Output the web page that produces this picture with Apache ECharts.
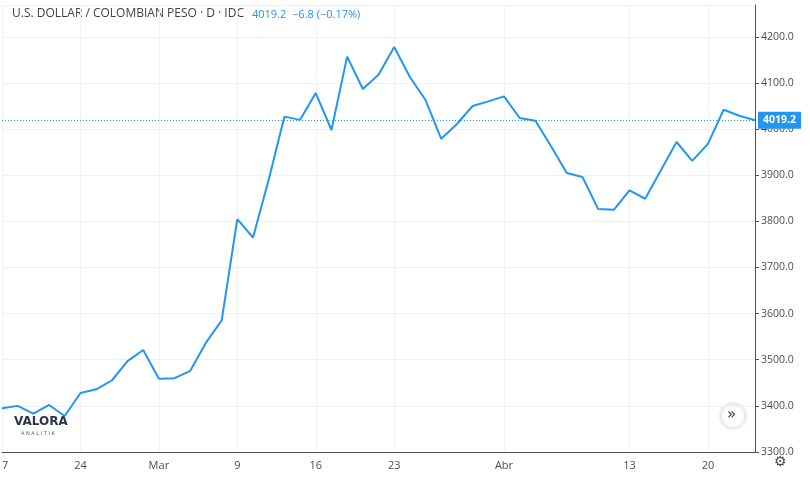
<!DOCTYPE html>
<html>
<head>
<meta charset="utf-8">
<script src="https://cdn.jsdelivr.net/npm/echarts@6/dist/echarts.min.js"></script>
<style>html,body{margin:0;padding:0;background:#fff}#chart{width:810px;height:479px}</style>
</head>
<body>
<div id="chart"></div>
<script>
// fechas de negociación (feb-abr 2020)
const dates = [
  '02-17','02-18','02-19','02-20','02-21',
  '02-24','02-25','02-26','02-27','02-28',
  '03-02','03-03','03-04','03-05','03-06',
  '03-09','03-10','03-11','03-12','03-13',
  '03-16','03-17','03-18','03-19','03-20',
  '03-23','03-24','03-25','03-26','03-27',
  '03-30','03-31','04-01','04-02','04-03',
  '04-06','04-07','04-08','04-09','04-10',
  '04-13','04-14','04-15','04-16','04-17',
  '04-20','04-21','04-22','04-23'
];
const closes = [
  3395, 3400, 3383, 3402, 3378,
  3428, 3436, 3455, 3497, 3521,
  3459, 3460, 3476, 3537, 3585,
  3805, 3765, 3890, 4027, 4020,
  4078, 3998, 4157, 4087, 4118,
  4178, 4113, 4063, 3979, 4011,
  4050, 4060, 4071, 4024, 4018,
  3963, 3905, 3896, 3827, 3825,
  3867, 3849, 3911, 3972, 3931,
  3968, 4042, 4029, 4019.2
];
const tickDates = ['02-17','02-24','03-02','03-09','03-16','03-23','04-01','04-13','04-20'];
const lastPrice = 4019.2;

const blue = '#2196f3';
const gridColor = '#eef1f6';
const showTick = (i) => tickDates.indexOf(dates[i]) >= 0;

const chart = echarts.init(document.getElementById('chart'));
chart.setOption({
  animation: false,
  grid: {left: 2, right: 55, top: 5, bottom: 27, containLabel: false, outerBoundsMode: 'none'},
  xAxis: {
    type: 'category',
    data: dates,
    boundaryGap: false,
    axisLine: {lineStyle: {color: '#50535e', width: 1}},
    axisTick: {show: false},
    axisLabel: {
      interval: showTick,
      color: '#4a4d57', fontFamily: 'Open Sans', fontSize: 11, margin: 8,
      formatter: v => v === '03-02' ? 'Mar' : v === '04-01' ? 'Abr' : String(parseInt(v.slice(3), 10))
    },
    splitLine: {show: true, interval: showTick, lineStyle: {color: gridColor}}
  },
  yAxis: {
    type: 'value',
    position: 'right',
    min: 3300, max: 4269, interval: 100,
    axisLine: {show: true, lineStyle: {color: '#50535e'}},
    axisTick: {show: true, length: 4, lineStyle: {color: '#50535e'}},
    axisLabel: {color: '#4a4d57', fontFamily: 'Open Sans', fontSize: 10.5, margin: 6,
      formatter: v => v.toFixed(1), showMaxLabel: false},
    splitLine: {lineStyle: {color: gridColor}}
  },
  series: [{
    type: 'line',
    data: closes,
    symbol: 'none',
    lineStyle: {color: blue, width: 2},
    markLine: {
      silent: true,
      symbol: ['none', 'none'],
      lineStyle: {color: blue, type: [1, 2], width: 1},
      label: {
        position: 'end', formatter: lastPrice.toFixed(1),
        backgroundColor: blue, color: '#fff', fontFamily: 'Open Sans', fontSize: 10.5,
        fontWeight: 'bold', padding: [3, 5], distance: 3
      },
      data: [{yAxis: lastPrice}]
    }
  }],
  graphic: [
    {type: 'text', left: 12, top: 8, style: {text: 'U.S. DOLLAR / COLOMBIAN PESO · D · IDC',
      fill: '#3c3f48', font: '12px "Open Sans"'}},
    {type: 'text', left: 252, top: 9, style: {text: '4019.2  −6.8 (−0.17%)',
      fill: blue, font: '11px "Open Sans"'}},
    {type: 'text', left: 14, top: 416, style: {text: 'VALORA', fill: '#2f3545',
      font: 'bold 12px "DejaVu Sans"'}},
    {type: 'text', left: 21, top: 431, style: {text: 'A N A L I T I K', fill: '#555',
      font: '5px "DejaVu Sans"'}},
    {type: 'circle', shape: {cx: 733, cy: 416, r: 12}, style: {fill: '#fff', stroke: '#e0e3eb', shadowBlur: 4, shadowColor: 'rgba(0,0,0,0.15)'}},
    {type: 'text', left: 727, top: 408, style: {text: '»', fill: '#333', font: '15px "DejaVu Sans"'}},
    {type: 'text', left: 774, top: 455, style: {text: '⚙', fill: '#444', font: '14px "DejaVu Sans"'}}
  ]
});
</script>
</body>
</html>
